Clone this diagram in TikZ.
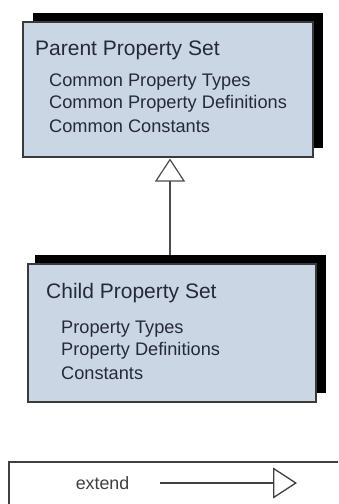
\documentclass[tikz,border=0pt]{standalone}
\usepackage{fontspec}
\setmainfont{Liberation Sans}
\usetikzlibrary{arrows.meta}
\definecolor{setfill}{HTML}{CAD6E4}
\definecolor{settext}{HTML}{262A38}
\definecolor{setedge}{HTML}{3A3A3A}
\begin{document}
\begin{tikzpicture}[x=1pt,y=-1pt,
  setbox/.style={draw=setedge, line width=1.4pt, fill=setfill, inner sep=0pt},
  setshadow/.style={fill=black, inner sep=0pt},
  settitle/.style={text=settext, anchor=west, inner sep=0pt, font=\fontsize{21}{24}\selectfont},
  setitem/.style={text=settext, anchor=west, inner sep=0pt, font=\fontsize{18.2}{22}\selectfont},
  generalize/.style={draw=black!70, line width=1.2pt, -{Triangle[open, length=23pt, width=30pt, fill=white]}}
]
\useasboundingbox (0,0) rectangle (338,504);
\fill[white] (0,0) rectangle (338,504);

% parent property set
\node[setshadow, minimum width=290pt, minimum height=135pt] (parentshadow) at (178,80.5) {};
\node[setbox, minimum width=290pt, minimum height=135pt] (parent) at (168,89.5) {};
\node[settitle] (ptitle) at (35,50) {Parent Property Set};
\node[setitem] (pi1) at (49,82) {Common Property Types};
\node[setitem] (pi2) at (49,104) {Common Property Definitions};
\node[setitem] (pi3) at (49,126) {Common Constants};

% child property set
\node[setshadow, minimum width=291pt, minimum height=138pt] (childshadow) at (180.5,324) {};
\node[setbox, minimum width=288pt, minimum height=138pt] (child) at (172,333) {};
\node[settitle] (ctitle) at (46,293) {Child Property Set};
\node[setitem] (ci1) at (61,329) {Property Types};
\node[setitem] (ci2) at (61,351) {Property Definitions};
\node[setitem] (ci3) at (61,373) {Constants};

% child extends parent
\coordinate (cjoin) at (170,255);
\coordinate (pjoin) at (170,158.5);
\draw[generalize] (cjoin) -- (pjoin);

% legend
\begin{scope}
\clip (0,0) rectangle (338,504);
\node[draw=black!75, line width=1.6pt, fill=white, minimum width=340pt, minimum height=60pt, anchor=north west, inner sep=0pt] (legend) at (8,461) {};
\end{scope}
\node[text=black!75, inner sep=0pt, font=\fontsize{17.8}{20}\selectfont] (legtext) at (102.5,483) {extend};
\coordinate (legstart) at (160,483);
\coordinate (legend end) at (297,483);
\draw[draw=black!75, line width=1.3pt, -{Triangle[open, length=24pt, width=31pt, fill=white]}] (legstart) -- (legend end);
\end{tikzpicture}
\end{document}
